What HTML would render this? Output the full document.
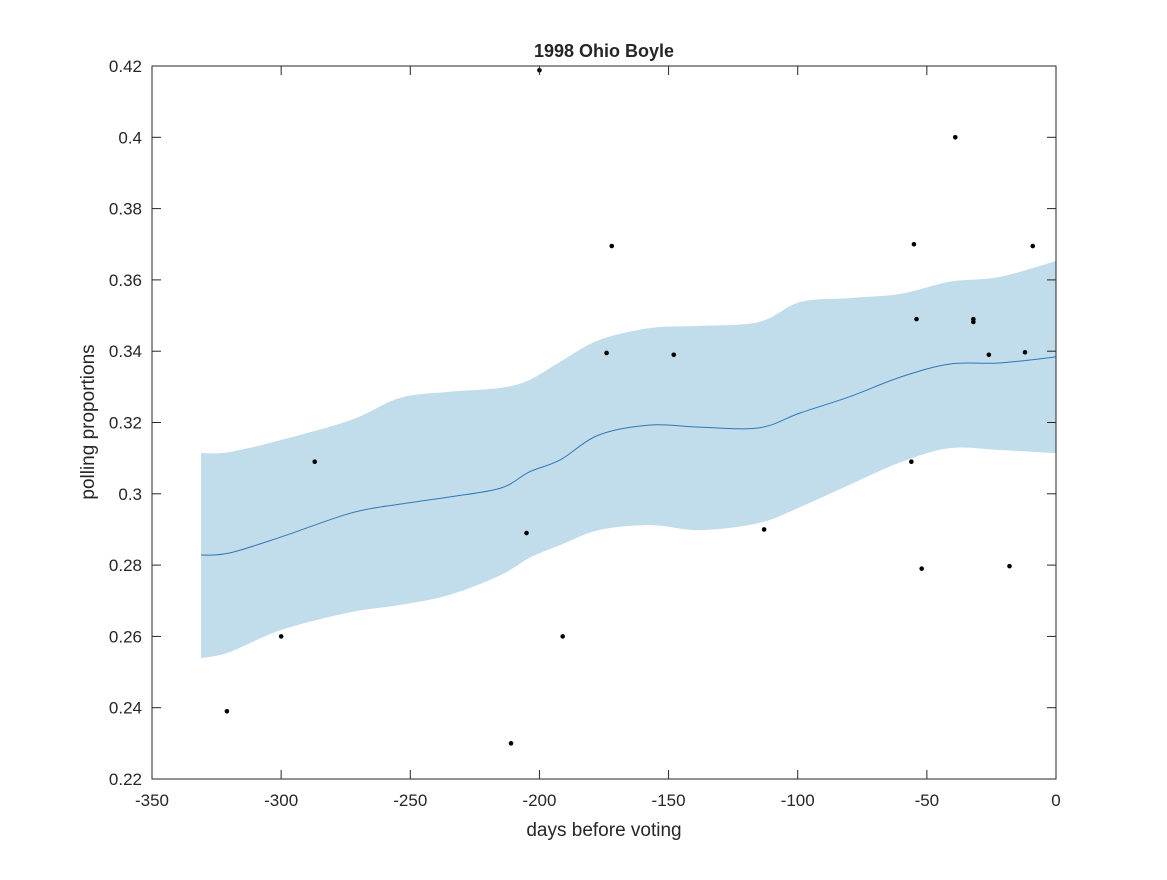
<!DOCTYPE html>
<html><head><meta charset="utf-8"><style>
body{margin:0;background:#fff;}
svg text{font-family:"Liberation Sans",Arial,sans-serif;fill:#262626;}
</style></head><body>
<svg id="chart" width="1167" height="875" xmlns="http://www.w3.org/2000/svg">
<rect width="1167" height="875" fill="#fff"/>
<g id="plot"></g>
</svg>
<script>
const bandX=[-331,-320,-300,-273,-254,-235,-215,-204,-192,-177,-157,-138,-115,-99,-80,-60,-41,-22,0];
const meanY=[0.2828,0.2834,0.2879,0.2946,0.2971,0.2991,0.3016,0.3061,0.3095,0.3165,0.3193,0.3187,0.3185,0.3227,0.3272,0.3328,0.3364,0.3367,0.3384];
const upperY=[0.3114,0.3117,0.3151,0.3207,0.3269,0.3286,0.3297,0.3319,0.3370,0.3431,0.3465,0.3471,0.3482,0.3538,0.3549,0.3561,0.3595,0.3608,0.3653];
const lowerY=[0.2539,0.2556,0.2618,0.2668,0.2688,0.2716,0.2772,0.2820,0.2856,0.2898,0.2912,0.2898,0.2918,0.2963,0.3025,0.3089,0.3128,0.3123,0.3114];
const pollX=[-321,-300,-287,-200,-205,-211,-191,-174,-172,-148,-113,-56,-55,-54,-52,-39,-32,-32,-26,-18,-12,-9];
const pollY=[0.239,0.26,0.309,0.4188,0.289,0.230,0.260,0.3395,0.3695,0.339,0.290,0.309,0.370,0.349,0.279,0.400,0.349,0.3482,0.339,0.2797,0.3397,0.3695];
const xTicks=[-350,-300,-250,-200,-150,-100,-50,0];
const yTicks=[0.22,0.24,0.26,0.28,0.3,0.32,0.34,0.36,0.38,0.4,0.42];

const L=152,R=1056,T=66,B=779;
const sx=v=>L+(v+350)/350*(R-L);
const sy=v=>B-(v-0.22)/0.2*(B-T);
const NS='http://www.w3.org/2000/svg';
const g=document.getElementById('plot');
function mk(tag,attrs){const e=document.createElementNS(NS,tag);for(const k in attrs)e.setAttribute(k,attrs[k]);g.appendChild(e);return e;}
function smooth(pts){let d='M'+pts[0][0]+','+pts[0][1];
 for(let i=0;i<pts.length-1;i++){const p0=pts[Math.max(0,i-1)],p1=pts[i],p2=pts[i+1],p3=pts[Math.min(pts.length-1,i+2)];
 const c1=[p1[0]+(p2[0]-p0[0])/6,p1[1]+(p2[1]-p0[1])/6],c2=[p2[0]-(p3[0]-p1[0])/6,p2[1]-(p3[1]-p1[1])/6];
 d+=' C'+c1[0]+','+c1[1]+' '+c2[0]+','+c2[1]+' '+p2[0]+','+p2[1];}return d;}
const up=bandX.map((x,i)=>[sx(x),sy(upperY[i])]);
const lo=bandX.map((x,i)=>[sx(x),sy(lowerY[i])]).reverse();
let bd=smooth(up)+' L'+lo[0][0]+','+lo[0][1]+smooth(lo).slice(smooth(lo).indexOf(' '))+' Z';
const band=mk('path',{d:bd,fill:'#c1dcea',stroke:'none'});


const ml=mk('path',{d:smooth(bandX.map((x,i)=>[sx(x),sy(meanY[i])])),fill:'none',stroke:'#2f77b8','stroke-width':1});


pollX.forEach((x,i)=>{const c=mk('circle',{cx:sx(x),cy:sy(pollY[i]),r:2.3,fill:'#000'});

});
const ax=mk('rect',{x:L,y:T,width:R-L,height:B-T,fill:'none',stroke:'#262626','stroke-width':1});


xTicks.forEach(t=>{const x=sx(t);mk('line',{x1:x,x2:x,y1:B,y2:B-9,stroke:'#262626'});mk('line',{x1:x,x2:x,y1:T,y2:T+9,stroke:'#262626'});
const tx=mk('text',{x:x,y:B+27,'text-anchor':'middle','font-size':17});tx.textContent=t;

});
yTicks.forEach(t=>{const y=sy(t);mk('line',{x1:L,x2:L+9,y1:y,y2:y,stroke:'#262626'});mk('line',{x1:R,x2:R-9,y1:y,y2:y,stroke:'#262626'});
const tx=mk('text',{x:L-10,y:y+6,'text-anchor':'end','font-size':17});tx.textContent=String(t);

});
const ti=mk('text',{x:604,y:57,'text-anchor':'middle','font-size':18,'font-weight':'bold'});ti.textContent='1998 Ohio Boyle';


const xl=mk('text',{x:604,y:836,'text-anchor':'middle','font-size':19});xl.textContent='days before voting';


const yl=mk('text',{x:0,y:0,'text-anchor':'middle','font-size':19,transform:'translate(94,422) rotate(-90)'});yl.textContent='polling proportions';


</script>
</body></html>
